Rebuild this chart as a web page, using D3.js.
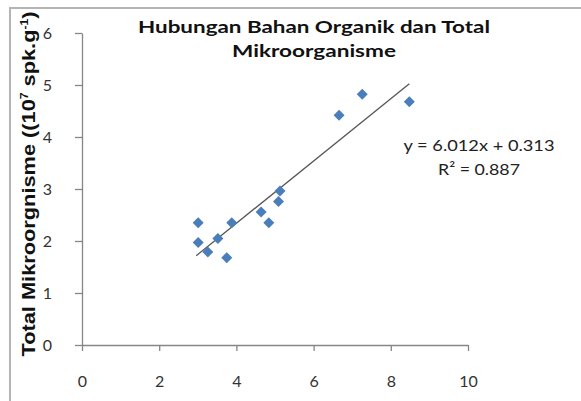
<!DOCTYPE html>
<html><head><meta charset="utf-8">
<script src="https://cdn.jsdelivr.net/npm/d3@7"></script>
<style>body{margin:0;background:#fff}</style>
</head><body>
<svg id="c" width="581" height="401"></svg>
<script>
const xValues = [3.01,3.01,3.26,3.52,3.75,3.88,4.64,4.84,5.09,5.13,6.66,7.26,8.48];
const yValues = [2.35,1.97,1.79,2.05,1.68,2.35,2.56,2.35,2.76,2.96,4.42,4.82,4.68];
const xTicks = [0,2,4,6,8,10];
const yTicks = [0,1,2,3,4,5,6];
const titleLines = ["Hubungan Bahan Organik dan Total","Mikroorganisme"];
const equationLines = ["y = 6.012x + 0.313","R² = 0.887"];

const svg = d3.select("#c");
svg.append("path").attr("d","M10,401 V8 H581").attr("fill","none").attr("stroke","#b4b4b4").attr("stroke-width",2);

const x = d3.scaleLinear().domain([0,10]).range([82,468]);
const y = d3.scaleLinear().domain([0,6]).range([345,33]);
const axisColor = "#868686";
const font = "Lato, 'Open Sans', sans-serif";

const gx = svg.append("g").attr("transform","translate(0,345)")
  .call(d3.axisBottom(x).tickValues(xTicks).tickSize(6).tickSizeOuter(0).tickFormat(d3.format("d")));
const gy = svg.append("g").attr("transform","translate(82,0)")
  .call(d3.axisLeft(y).tickValues(yTicks).tickSize(7).tickSizeOuter(0).tickFormat(d3.format("d")));
[gx,gy].forEach(g=>{
  g.select(".domain").attr("stroke",axisColor).attr("stroke-width",1.3);
  g.selectAll(".tick line").attr("stroke",axisColor).attr("stroke-width",1.3);
  g.selectAll(".tick text").attr("fill","#333").attr("font-family",font).attr("font-size",16);
});
gx.selectAll(".tick text").attr("dy","2.05em");
gy.selectAll(".tick text").attr("x",-30);

// trendline (least squares of the data)
const n = xValues.length;
const mx = d3.mean(xValues), my = d3.mean(yValues);
let sxy=0,sxx=0;
for(let i=0;i<n;i++){sxy+=(xValues[i]-mx)*(yValues[i]-my);sxx+=(xValues[i]-mx)**2;}
const b = sxy/sxx, a = my - b*mx;
const x0 = d3.min(xValues)-0.05, x1 = d3.max(xValues);
svg.append("line").attr("x1",x(x0)).attr("y1",y(a+b*x0)).attr("x2",x(x1)).attr("y2",y(a+b*x1))
  .attr("stroke","#555").attr("stroke-width",1.3);

const pts = xValues.map((v,i)=>[v,yValues[i]]);
const r = 5.5;
svg.append("g").selectAll("path").data(pts).join("path")
  .attr("d",d=>{const cx=x(d[0]),cy=y(d[1]);return `M${cx},${cy-r}L${cx+r},${cy}L${cx},${cy+r}L${cx-r},${cy}Z`;})
  .attr("fill","#4a7ebb");

// title
const titleWidths = [352,164];
titleLines.forEach((t,i)=>{
  svg.append("text").attr("text-anchor","middle").attr("font-family",font).attr("font-weight","bold")
    .attr("font-size",17).attr("fill","#111")
    .attr("x",314).attr("y",33+i*24)
    .attr("textLength",titleWidths[i]).attr("lengthAdjust","spacingAndGlyphs").text(t);
});

// equation
const eqWidths = [151,82];
equationLines.forEach((t,i)=>{
  svg.append("text").attr("text-anchor","middle").attr("font-family",font)
    .attr("font-size",16).attr("fill","#222")
    .attr("x",479).attr("y",151+i*24)
    .attr("textLength",eqWidths[i]).attr("lengthAdjust","spacingAndGlyphs").text(t);
});

// y label
const yl = svg.append("text").attr("transform","translate(35,184) rotate(-90)")
  .attr("text-anchor","middle").attr("font-family","'Liberation Sans', Arial, sans-serif")
  .attr("font-weight","bold").attr("font-size",18).attr("fill","#111")
  .attr("textLength",345).attr("lengthAdjust","spacingAndGlyphs");
yl.append("tspan").text("Total Mikroorgnisme ((10");
yl.append("tspan").attr("font-size",10).attr("dy",-7).text("7");
yl.append("tspan").attr("dy",7).text(" spk.g");
yl.append("tspan").attr("font-size",10).attr("dy",-7).text("-1");
yl.append("tspan").attr("dy",7).text(")");
</script>
</body></html>
